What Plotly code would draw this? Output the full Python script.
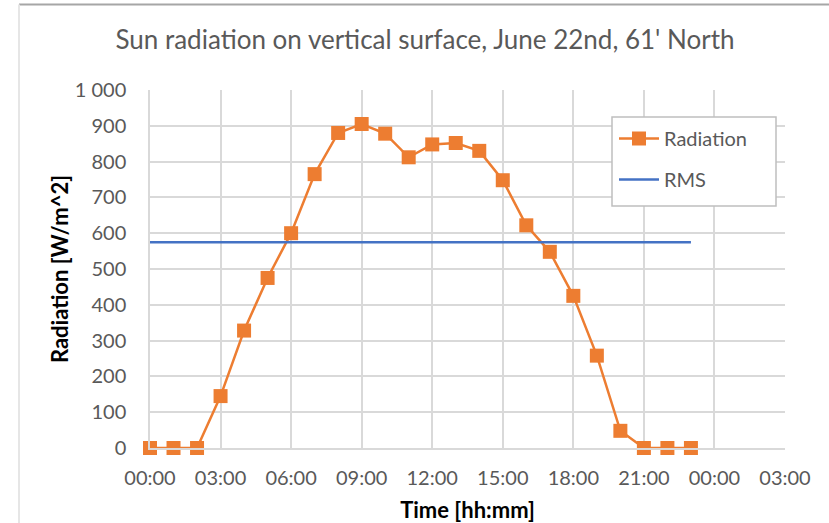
import plotly.graph_objects as go

hours = list(range(24))
radiation = [0, 0, 0, 145, 328, 475, 600, 765, 880, 905, 878, 812,
             848, 852, 830, 748, 622, 548, 425, 258, 48, 0, 0, 0]
rms_hours = [0, 23]
rms_value = [575, 575]

x_tick_vals = [0, 3, 6, 9, 12, 15, 18, 21, 24, 27]
x_tick_text = ["00:00", "03:00", "06:00", "09:00", "12:00", "15:00",
               "18:00", "21:00", "00:00", "03:00"]
y_tick_vals = [0, 100, 200, 300, 400, 500, 600, 700, 800, 900, 1000]
y_tick_text = ["0", "100", "200", "300", "400", "500", "600", "700",
               "800", "900", "1 000"]

FONT = "Lato"
GRAY = "#595959"
GRID = "#d9d9d9"

fig = go.Figure()
fig.add_trace(go.Scatter(
    x=hours, y=radiation, mode="lines+markers", name="Radiation",
    line=dict(color="#ED7D31", width=2.5),
    marker=dict(symbol="square", size=14, color="#ED7D31"),
    legendgroup="a", cliponaxis=False,
))
fig.add_trace(go.Scatter(
    x=rms_hours, y=rms_value, mode="lines", name="RMS",
    line=dict(color="#4472C4", width=2.5),
    legendgroup="b",
))

W, H = 829, 523
L, R, T, B = 150, 44, 90, 75
PW, PH = W - L - R, H - T - B


def px(xp):
    return (xp - L) / PW


def py(yp):
    return 1 - (yp - T) / PH


fig.update_layout(
    width=W, height=H,
    margin=dict(l=L, r=R, t=T, b=B),
    paper_bgcolor="white", plot_bgcolor="white",
    title=dict(text="Sun radiation on vertical surface, June 22nd, 61' North",
               x=425 / W, xanchor="center", y=1 - 40 / H, yanchor="middle",
               font=dict(family=FONT, size=26, color=GRAY)),
    font=dict(family=FONT, color=GRAY, size=16),
    showlegend=True,
    legend=dict(x=px(614), xanchor="left",
                y=py(119), yanchor="top",
                borderwidth=0, bgcolor="rgba(0,0,0,0)",
                font=dict(family=FONT, size=20, color=GRAY),
                tracegroupgap=12, itemwidth=40),
    xaxis=dict(range=[0, 27], tickvals=x_tick_vals, ticktext=x_tick_text,
               showgrid=True, gridcolor=GRID, gridwidth=1.5,
               showline=True, linecolor=GRID, linewidth=1.5,
               zeroline=False, ticks="", ticklabelstandoff=11,
               automargin=False,
               tickfont=dict(family=FONT, size=20, color=GRAY),
               title=dict(text="<b>Time [hh:mm]</b>", standoff=20,
                          font=dict(family=FONT, size=22, color="black"))),
    yaxis=dict(range=[0, 1000], tickvals=y_tick_vals, ticktext=y_tick_text,
               showgrid=True, gridcolor=GRID, gridwidth=1.5,
               showline=True, linecolor=GRID, linewidth=1.5,
               zeroline=False, ticks="", ticklabelstandoff=18,
               automargin=False,
               tickfont=dict(family=FONT, size=20, color=GRAY),
               title=dict(text="<b>Radiation [W/m^2]</b>", standoff=0,
                          font=dict(family=FONT, size=22, color="black"))),
)

# legend box
fig.add_shape(type="rect", xref="paper", yref="paper",
              x0=px(612), x1=px(776), y0=py(117), y1=py(206),
              line=dict(color="#bfbfbf", width=1.5), fillcolor="white",
              layer="above")

# chart frame (top and left edges)
fig.add_shape(type="line", xref="paper", yref="paper",
              x0=px(19), x1=px(829), y0=py(4.5), y1=py(4.5),
              line=dict(color="#a6a6a6", width=2))
fig.add_shape(type="line", xref="paper", yref="paper",
              x0=px(19), x1=px(19), y0=py(4.5), y1=py(523),
              line=dict(color="#e6e6e6", width=2))

fig.write_html("out.html")
